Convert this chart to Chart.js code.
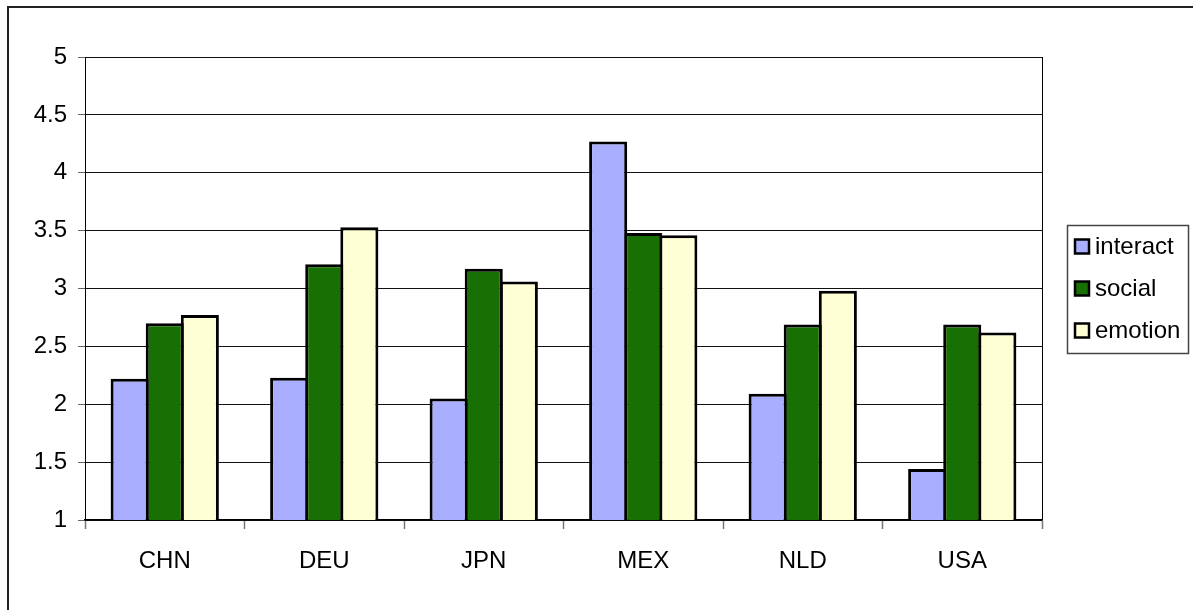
<!DOCTYPE html>
<html>
<head>
<meta charset="utf-8">
<script src="https://cdn.jsdelivr.net/npm/chart.js@4/dist/chart.umd.min.js"></script>
<style>
  html, body { margin: 0; padding: 0; background: #ffffff; }
  #wrap { width: 1193px; height: 610px; position: relative; }
</style>
</head>
<body>
<div id="wrap"><canvas id="chart" width="1193" height="610"></canvas></div>
<script>
// Mean scores by country for three dimensions
const countries = ['CHN', 'DEU', 'JPN', 'MEX', 'NLD', 'USA'];
const interact  = [2.22, 2.23, 2.05, 4.27, 2.09, 1.44];
const social    = [2.70, 3.21, 3.17, 3.48, 2.69, 2.69];
const emotion   = [2.77, 3.53, 3.06, 3.46, 2.98, 2.62];
const seriesNames = ['interact', 'social', 'emotion'];
const yTickValues = [1, 1.5, 2, 2.5, 3, 3.5, 4, 4.5, 5];
const yTickLabels = ['1', '1.5', '2', '2.5', '3', '3.5', '4', '4.5', '5'];

const FONT = '"Liberation Sans", Arial, sans-serif';
const colors = ['#aaaeff', '#187005', '#ffffd5'];

// White page, outer frame, right edge of the plot box and the boxed legend
const decor = {
  id: 'decor',
  beforeDraw(chart) {
    const ctx = chart.ctx;
    ctx.save();
    ctx.fillStyle = '#ffffff';
    ctx.fillRect(0, 0, chart.width, chart.height);
    ctx.restore();
  },
  afterDraw(chart) {
    const ctx = chart.ctx;
    const a = chart.chartArea;
    ctx.save();
    // outer frame
    ctx.strokeStyle = '#222';
    ctx.lineWidth = 2;
    ctx.strokeRect(8, 7, chart.width + 40, chart.height + 40);
    // plot area right edge
    ctx.strokeStyle = '#000';
    ctx.lineWidth = 1;
    ctx.beginPath();
    ctx.moveTo(Math.round(a.right) + 0.5, a.top);
    ctx.lineTo(Math.round(a.right) + 0.5, a.bottom);
    ctx.stroke();

    // legend
    const ds = chart.data.datasets;
    const boxW = 121, boxH = 128;
    const bx = Math.round(a.right) + 25;
    const mid = (a.top + a.bottom) / 2;
    const by = Math.round(mid - boxH / 2);
    ctx.fillStyle = '#fff';
    ctx.fillRect(bx, by, boxW, boxH);
    ctx.strokeStyle = '#444';
    ctx.lineWidth = 1.5;
    ctx.strokeRect(bx + 0.5, by + 0.5, boxW, boxH);
    ctx.font = '24px ' + FONT;
    ctx.textBaseline = 'middle';
    ctx.textAlign = 'left';
    ds.forEach((d, i) => {
      const cy = mid + (i - 1) * 42;
      ctx.fillStyle = d.backgroundColor;
      ctx.fillRect(bx + 8, cy - 7, 14, 14);
      ctx.strokeStyle = '#000';
      ctx.lineWidth = 2.5;
      ctx.strokeRect(bx + 8, cy - 7, 14, 14);
      ctx.fillStyle = '#000';
      ctx.fillText(d.label, bx + 28, cy + 1);
    });
    ctx.restore();
  }
};

const seriesValues = [interact, social, emotion];

new Chart(document.getElementById('chart'), {
  type: 'bar',
  data: {
    labels: countries,
    datasets: seriesNames.map((name, i) => ({
      label: name,
      data: seriesValues[i],
      backgroundColor: colors[i],
      borderColor: '#000',
      borderWidth: 3,
      borderSkipped: false,
      categoryPercentage: 0.66,
      barPercentage: 1.085
    }))
  },
  options: {
    responsive: false,
    animation: false,
    devicePixelRatio: 1,
    layout: { padding: { left: 0, top: 57, right: 151, bottom: 0 } },
    plugins: {
      legend: { display: false },
      tooltip: { enabled: false }
    },
    scales: {
      x: {
        offset: true,
        grid: {
          offset: true,
          drawOnChartArea: false,
          drawTicks: true,
          tickLength: 9,
          tickColor: '#777',
          tickWidth: 1.5
        },
        border: { display: true, color: '#000', width: 1.5 },
        ticks: {
          color: '#000',
          font: { family: FONT, size: 24 },
          padding: 18,
          maxRotation: 0
        },
        afterFit(scale) { scale.height = 90; }
      },
      y: {
        min: 1,
        max: 5,
        afterBuildTicks(scale) {
          scale.ticks = yTickValues.map(v => ({ value: v }));
        },
        grid: {
          color: '#111',
          lineWidth: 1,
          drawTicks: true,
          tickLength: 7,
          tickColor: '#666'
        },
        border: { display: true, color: '#000', width: 1 },
        ticks: {
          color: '#000',
          font: { family: FONT, size: 24 },
          padding: 11,
          callback: (value, index) => yTickLabels[index]
        },
        afterFit(scale) { scale.width = 85; }
      }
    }
  },
  plugins: [decor]
});
</script>
</body>
</html>
